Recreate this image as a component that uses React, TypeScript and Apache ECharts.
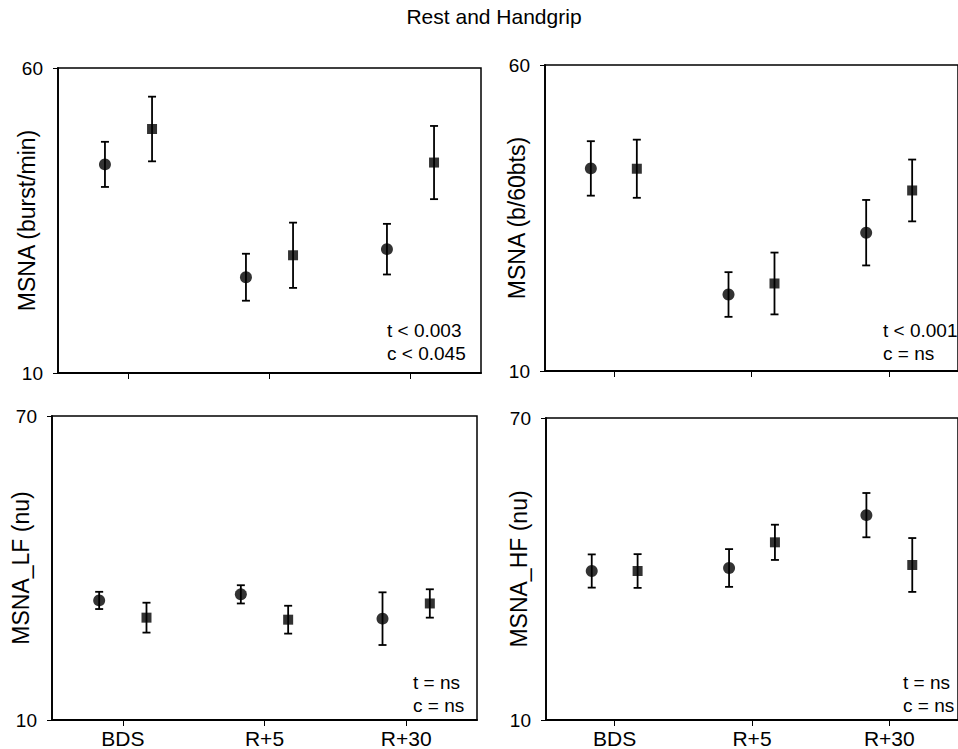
import React, { useEffect, useRef } from "react";
import * as echarts from "echarts";

const categories = ["BDS", "R+5", "R+30"];
const chartTitle = "Rest and Handgrip";
const yNames = ["MSNA (burst/min)", "MSNA (b/60bts)", "MSNA_LF (nu)", "MSNA_HF (nu)"];
const yMins = [10, 10, 10, 10];
const yMaxs = [60, 60, 70, 70];

// circles (rest) and squares (handgrip): mean and error
const burstCircle = [44.2, 25.7, 30.3];
const burstCircleErr = [3.7, 3.85, 4.15];
const burstSquare = [50.0, 29.3, 44.5];
const burstSquareErr = [5.3, 5.35, 6.0];

const b60Circle = [43.1, 22.5, 32.6];
const b60CircleErr = [4.45, 3.65, 5.35];
const b60Square = [43.05, 24.3, 39.5];
const b60SquareErr = [4.75, 5.05, 5.05];

const lfCircle = [33.6, 34.8, 30.0];
const lfCircleErr = [1.7, 1.8, 5.2];
const lfSquare = [30.2, 29.8, 33.0];
const lfSquareErr = [2.95, 2.75, 2.8];

const hfCircle = [39.6, 40.2, 50.7];
const hfCircleErr = [3.3, 3.75, 4.4];
const hfSquare = [39.6, 45.3, 40.8];
const hfSquareErr = [3.35, 3.5, 5.35];

const panelNotes = [
  ["t < 0.003", "c < 0.045"],
  ["t < 0.001", "c = ns"],
  ["t = ns", "c = ns"],
  ["t = ns", "c = ns"],
];

const FONT = "'Liberation Sans', Arial, sans-serif";

export default function App() {
  const ref = useRef<HTMLDivElement>(null);
  useEffect(() => {
    if (!ref.current) return;
    const chart = echarts.init(ref.current, null, { renderer: "svg" });

    const grids = [
      { left: 58, top: 68, width: 423, height: 305 },
      { left: 545, top: 65, width: 424, height: 306 },
      { left: 52, top: 416, width: 425, height: 305 },
      { left: 546, top: 418, width: 424, height: 306 },
    ];
    const nameGaps = [20, 17, 20, 16];
    const notePos = [
      [387, 330],
      [883, 330],
      [413, 682],
      [903, 682],
    ];

    const panels = [
      [burstCircle, burstCircleErr, burstSquare, burstSquareErr],
      [b60Circle, b60CircleErr, b60Square, b60SquareErr],
      [lfCircle, lfCircleErr, lfSquare, lfSquareErr],
      [hfCircle, hfCircleErr, hfSquare, hfSquareErr],
    ];
    const offset = 0.167;

    const xAxis: any[] = [];
    const yAxis: any[] = [];
    const series: any[] = [];

    const errRender = (params: any, api: any) => {
      const x = api.value(0);
      const y = api.value(1);
      const e = api.value(2);
      const t = api.coord([x, y + e]);
      const b = api.coord([x, y - e]);
      const w = 4;
      const st = { stroke: "#000", lineWidth: 1.8 };
      return {
        type: "group",
        children: [
          { type: "line", shape: { x1: t[0], y1: t[1], x2: b[0], y2: b[1] }, style: st },
          { type: "line", shape: { x1: t[0] - w, y1: t[1], x2: t[0] + w, y2: t[1] }, style: st },
          { type: "line", shape: { x1: b[0] - w, y1: b[1], x2: b[0] + w, y2: b[1] }, style: st },
        ],
      };
    };

    panels.forEach((p, i) => {
      xAxis.push({
        type: "category",
        gridIndex: i,
        data: categories,
        boundaryGap: true,
        axisLine: { show: true, onZero: false, lineStyle: { color: "#000", width: 1.8 } },
        axisTick: { show: true, alignWithLabel: true, length: 6, lineStyle: { color: "#000", width: 1 } },
        axisLabel: { show: i >= 2, fontSize: 21, color: "#000", margin: 8, fontFamily: FONT },
        splitLine: { show: false },
      });
      xAxis.push({ type: "value", gridIndex: i, min: -0.5, max: 2.5, show: false, axisLine: { onZero: false } });
      yAxis.push({
        type: "value",
        gridIndex: i,
        min: yMins[i],
        max: yMaxs[i],
        name: yNames[i],
        nameLocation: "middle",
        nameGap: nameGaps[i],
        nameMoveOverlap: false,
        nameTextStyle: { fontSize: 23, color: "#000", fontFamily: FONT },
        axisLine: { show: true, onZero: false, lineStyle: { color: "#000", width: 1.8 } },
        axisTick: { show: true, length: 5, customValues: [yMins[i], yMaxs[i]], lineStyle: { color: "#000", width: 1 } },
        axisLabel: { fontSize: 19, color: "#000", margin: 15, customValues: [yMins[i], yMaxs[i]], fontFamily: FONT },
        splitLine: { show: false },
      });
      const [cm, ce, sm, se] = p;
      const circleData = cm.map((v, k) => [k - offset, v, ce[k]]);
      const squareData = sm.map((v, k) => [k + offset, v, se[k]]);
      [circleData, squareData].forEach((d) => {
        series.push({
          type: "custom",
          xAxisIndex: 2 * i + 1,
          yAxisIndex: i,
          data: d,
          encode: { x: 0, y: 1 },
          renderItem: errRender,
          silent: true,
          z: 2,
        });
      });
      series.push({
        type: "scatter",
        name: "Rest",
        xAxisIndex: 2 * i + 1,
        yAxisIndex: i,
        data: circleData.map((d) => [d[0], d[1]]),
        symbol: "circle",
        symbolSize: 12,
        itemStyle: { color: "#000" },
        z: 3,
      });
      series.push({
        type: "scatter",
        name: "Handgrip",
        xAxisIndex: 2 * i + 1,
        yAxisIndex: i,
        data: squareData.map((d) => [d[0], d[1]]),
        symbol: "rect",
        symbolSize: 10,
        itemStyle: { color: "#000" },
        z: 3,
      });
    });

    const graphic: any[] = [
      {
        type: "text",
        x: 494,
        y: 16,
        style: { text: chartTitle, font: `21px ${FONT}`, fill: "#000", textAlign: "center", textVerticalAlign: "middle" },
      },
    ];
    panelNotes.forEach((n, i) => {
      n.forEach((txt, j) => {
        graphic.push({
          type: "text",
          x: notePos[i][0],
          y: notePos[i][1] + j * 23,
          style: { text: txt, font: `19px ${FONT}`, fill: "#000", textAlign: "left", textVerticalAlign: "middle" },
        });
      });
    });

    chart.setOption({
      animation: false,
      backgroundColor: "#fff",
      textStyle: { fontFamily: FONT },
      grid: grids.map((g) => ({ ...g, show: true, borderColor: "#000", borderWidth: 1.5, backgroundColor: "transparent" })),
      xAxis,
      yAxis,
      series,
      graphic,
    });
    return () => chart.dispose();
  }, []);
  return <div ref={ref} style={{ position: "absolute", left: 0, top: 0, width: 958, height: 749 }} />;
}
